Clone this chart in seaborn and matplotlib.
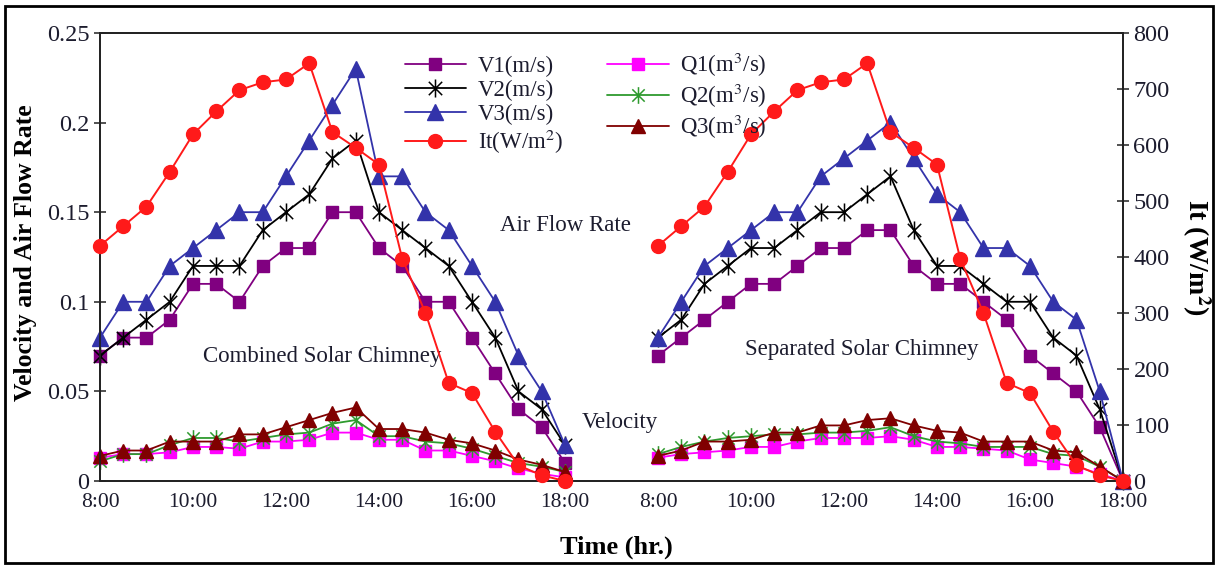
import numpy as np
import pandas as pd
import matplotlib
matplotlib.use("Agg")
import matplotlib.pyplot as plt
from matplotlib.path import Path
from matplotlib.patches import Rectangle
import seaborn as sns

# ---------------- data ----------------
times = [8 + 0.5 * i for i in range(21)]          # 8:00 .. 18:00 every 30 min
tick_hours = [8, 10, 12, 14, 16, 18]
tick_labels = ["8:00", "10:00", "12:00", "14:00", "16:00", "18:00"]

# Combined solar chimney
V1_comb = [0.07, 0.08, 0.08, 0.09, 0.11, 0.11, 0.10, 0.12, 0.13, 0.13, 0.15, 0.15, 0.13, 0.12, 0.10, 0.10, 0.08, 0.06, 0.04, 0.03, 0.01]
V2_comb = [0.07, 0.08, 0.09, 0.10, 0.12, 0.12, 0.12, 0.14, 0.15, 0.16, 0.18, 0.19, 0.15, 0.14, 0.13, 0.12, 0.10, 0.08, 0.05, 0.04, 0.02]
V3_comb = [0.08, 0.10, 0.10, 0.12, 0.13, 0.14, 0.15, 0.15, 0.17, 0.19, 0.21, 0.23, 0.17, 0.17, 0.15, 0.14, 0.12, 0.10, 0.07, 0.05, 0.02]
Q1_comb = [0.013, 0.015, 0.015, 0.016, 0.019, 0.019, 0.018, 0.022, 0.022, 0.023, 0.027, 0.027, 0.023, 0.023, 0.017, 0.017, 0.014, 0.011, 0.007, 0.004, 0.002]
Q2_comb = [0.011, 0.015, 0.015, 0.020, 0.024, 0.024, 0.022, 0.024, 0.026, 0.027, 0.032, 0.034, 0.025, 0.025, 0.022, 0.021, 0.018, 0.014, 0.010, 0.008, 0.005]
Q3_comb = [0.014, 0.017, 0.017, 0.022, 0.022, 0.022, 0.026, 0.026, 0.030, 0.034, 0.038, 0.041, 0.029, 0.029, 0.027, 0.023, 0.021, 0.017, 0.012, 0.009, 0.005]

# Separated solar chimney
V1_sep = [0.07, 0.08, 0.09, 0.10, 0.11, 0.11, 0.12, 0.13, 0.13, 0.14, 0.14, 0.12, 0.11, 0.11, 0.10, 0.09, 0.07, 0.06, 0.05, 0.03, 0.0]
V2_sep = [0.08, 0.09, 0.11, 0.12, 0.13, 0.13, 0.14, 0.15, 0.15, 0.16, 0.17, 0.14, 0.12, 0.12, 0.11, 0.10, 0.10, 0.08, 0.07, 0.04, 0.0]
V3_sep = [0.08, 0.10, 0.12, 0.13, 0.14, 0.15, 0.15, 0.17, 0.18, 0.19, 0.20, 0.18, 0.16, 0.15, 0.13, 0.13, 0.12, 0.10, 0.09, 0.05, 0.0]
Q1_sep = [0.013, 0.015, 0.016, 0.017, 0.019, 0.019, 0.022, 0.024, 0.024, 0.024, 0.025, 0.023, 0.019, 0.019, 0.018, 0.017, 0.012, 0.010, 0.008, 0.004, 0.0]
Q2_sep = [0.015, 0.019, 0.022, 0.024, 0.025, 0.026, 0.026, 0.027, 0.027, 0.028, 0.030, 0.025, 0.022, 0.021, 0.019, 0.019, 0.019, 0.015, 0.014, 0.008, 0.0]
Q3_sep = [0.014, 0.017, 0.022, 0.022, 0.023, 0.027, 0.027, 0.031, 0.031, 0.034, 0.035, 0.031, 0.028, 0.027, 0.022, 0.022, 0.022, 0.017, 0.016, 0.008, 0.0]

# Solar intensity (same for both)
It_vals = [420, 455, 490, 552, 619, 660, 698, 712, 717, 746, 623, 595, 565, 397, 300, 175, 157, 88, 28, 10, 0]

panel_offset = 12   # second panel shifted 12 h (10 h day + 2 h gap)

# ---------------- style ----------------
sns.set_theme(style="white")
plt.rcParams["font.family"] = ["Liberation Serif", "DejaVu Serif"]
plt.rcParams["mathtext.fontset"] = "stix"
txt_color = "#1c1c2e"

star = Path([(-1, -1), (1, 1), (-1, 1), (1, -1), (0, -1.35), (0, 1.35)],
            [Path.MOVETO, Path.LINETO, Path.MOVETO, Path.LINETO, Path.MOVETO, Path.LINETO])

styles = {
    "V1": dict(color="#800080", marker="s", ms=9, mfc="#800080", mec="#800080", mew=1, lw=1.3),
    "V2": dict(color="#000000", marker=star, ms=13, mfc="none", mec="#000000", mew=1.1, lw=1.3),
    "V3": dict(color="#3333aa", marker="^", ms=11, mfc="#3333aa", mec="#3333aa", mew=1, lw=1.3),
    "It": dict(color="#ff1a1a", marker="o", ms=10, mfc="#ff1a1a", mec="#ff1a1a", mew=1, lw=1.4),
    "Q1": dict(color="#ff00ff", marker="s", ms=8, mfc="#ff00ff", mec="#ff00ff", mew=1, lw=1.3),
    "Q2": dict(color="#2e9a2e", marker=star, ms=12, mfc="none", mec="#2e9a2e", mew=1.1, lw=1.3),
    "Q3": dict(color="#800000", marker="^", ms=10, mfc="#800000", mec="#800000", mew=1, lw=1.3),
}
labels = {
    "V1": "V1(m/s)", "V2": "V2(m/s)", "V3": "V3(m/s)", "It": r"It(W/m$^2$)",
    "Q1": r"Q1(m$^3$/s)", "Q2": r"Q2(m$^3$/s)", "Q3": r"Q3(m$^3$/s)",
}

fig = plt.figure(figsize=(12.18, 5.68), dpi=100)
ax = fig.add_axes([0.0821, 0.1532, 0.922 - 0.0821, 0.9419 - 0.1532])
ax2 = ax.twinx()

x_left = np.array(times)
x_right = np.array(times) + panel_offset

def draw(axis, key, left_vals, right_vals):
    st = styles[key]
    for i, (xs, ys) in enumerate([(x_left, left_vals), (x_right, right_vals)]):
        sns.lineplot(x=xs, y=ys, ax=axis, color=st["color"], marker=st["marker"],
                     markersize=st["ms"], markerfacecolor=st["mfc"],
                     markeredgecolor=st["mec"], markeredgewidth=st["mew"],
                     linewidth=st["lw"], label=labels[key] if i == 0 else None,
                     legend=False, clip_on=False, zorder=3)

draw(ax, "V1", V1_comb, V1_sep)
draw(ax, "V2", V2_comb, V2_sep)
draw(ax, "V3", V3_comb, V3_sep)
draw(ax, "Q1", Q1_comb, Q1_sep)
draw(ax, "Q2", Q2_comb, Q2_sep)
draw(ax, "Q3", Q3_comb, Q3_sep)
draw(ax2, "It", It_vals, It_vals)

# ---------------- axes ----------------
ax.set_xlim(8, 18 + panel_offset)
ax.set_ylim(0, 0.25)
ax2.set_ylim(0, 800)

major = tick_hours + [h + panel_offset for h in tick_hours]
ax.set_xticks(major)
ax.set_xticklabels(tick_labels + tick_labels)
ax.set_xticks(np.arange(9, 18 + panel_offset, 2), minor=True)
ax.set_yticks([0, 0.05, 0.1, 0.15, 0.2, 0.25])
ax.set_yticklabels(["0", "0.05", "0.1", "0.15", "0.2", "0.25"])
ax2.set_yticks(range(0, 801, 100))

ax.tick_params(axis="x", which="major", direction="inout", length=9, width=1.1,
               labelsize=15.5, labelcolor=txt_color, pad=4, color="#222222")
ax.tick_params(axis="x", which="minor", direction="out", length=4, width=1.1, color="#222222")
ax.tick_params(axis="y", direction="inout", length=9, width=1.1, labelsize=17.5,
               labelcolor=txt_color, pad=3, color="#222222")
ax2.tick_params(axis="y", direction="inout", length=9, width=1.1, labelsize=17.5,
                labelcolor=txt_color, pad=3, color="#222222")

for a in (ax, ax2):
    for s in a.spines.values():
        s.set_color("#222222")
        s.set_linewidth(1.3)
        s.set_visible(True)

ax.set_xlabel("Time (hr.)", fontsize=19, fontweight="bold", color="#000000")
ax.xaxis.set_label_coords(0.505, -0.122)
ax.set_ylabel("Velocity and Air Flow Rate", fontsize=18.5, fontweight="bold", color="#000000")
ax.yaxis.set_label_coords(-0.062, 0.51)
ax2.set_ylabel(r"It (W/m$^\mathbf{2}$)", fontsize=20, fontweight="bold", color="#000000",
               rotation=270, va="center")
ax2.yaxis.set_label_coords(1.072, 0.5)

# ---------------- annotations ----------------
ann_fs = 16.5
ax.text(18.0, 0.1423, "Air Flow Rate", fontsize=ann_fs, color=txt_color, ha="center", va="center")
ax.text(12.77, 0.0692, "Combined Solar Chimney", fontsize=ann_fs, color=txt_color, ha="center", va="center")
ax.text(24.39, 0.0731, "Separated Solar Chimney", fontsize=ann_fs, color=txt_color, ha="center", va="center")
ax.text(19.18, 0.0329, "Velocity", fontsize=ann_fs, color=txt_color, ha="center", va="center")

# ---------------- legend ----------------
h1, l1 = ax.get_legend_handles_labels()
h2, l2 = ax2.get_legend_handles_labels()
hd = dict(zip(l1 + l2, h1 + h2))
order = ["V1", "V2", "V3", "It", "Q1", "Q2", "Q3"]
handles = [hd[labels[k]] for k in order]
leg = ax2.legend(handles, [labels[k] for k in order], ncol=2, frameon=False,
                 loc="upper left", bbox_to_anchor=(0.282, 0.995), fontsize=16.5,
                 handlelength=2.7, handletextpad=0.5, columnspacing=1.9,
                 labelspacing=0.12, borderaxespad=0.3)
for t in leg.get_texts():
    t.set_color(txt_color)

# figure frame
fig.patches.append(Rectangle((0.004, 0.009), 0.992, 0.981, transform=fig.transFigure,
                             fill=False, edgecolor="black", linewidth=2))

fig.savefig("out.png", dpi=100)
